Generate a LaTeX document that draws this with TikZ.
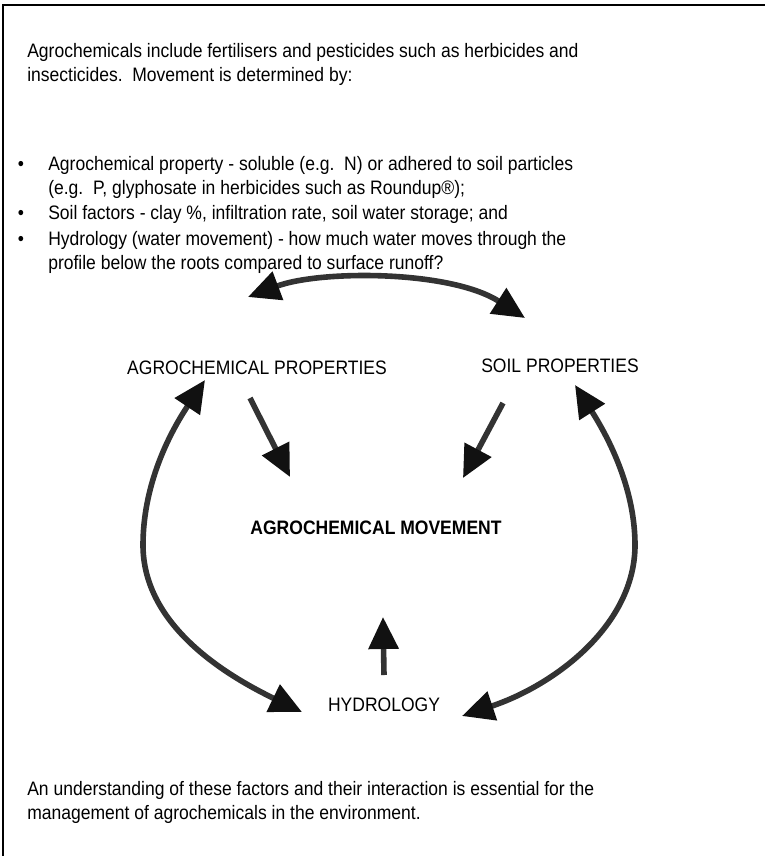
\documentclass[tikz,border=0pt]{standalone}
\usepackage{fontspec}
\setmainfont[FakeStretch=0.9]{Liberation Sans}
\usetikzlibrary{arrows.meta}

\definecolor{arcgray}{HTML}{333333}
\definecolor{tipblack}{HTML}{111111}

\tikzset{
	body/.style={anchor=north west, inner sep=0pt, align=left, font=\fontsize{14.6}{18}\selectfont},
	dot/.style={anchor=base, inner sep=0pt, font=\fontsize{14.6}{18}\selectfont},
	factor/.style={inner sep=0pt, font=\fontsize{14.6}{18}\selectfont},
	flow/.style={line width=4.2pt, draw=arcgray},
}

\begin{document}
\begin{tikzpicture}[x=0.75pt, y=-0.75pt, >={Triangle[length=24pt,width=22pt,color=tipblack]}]

		\useasboundingbox (0,0) rectangle (765,856);
		\draw[line width=1.5pt] (3,856) -- (3,5) -- (765,5); %Marco

		% texto
		\node[body] (intro) at (27,43) {Agrochemicals include fertilisers and pesticides such as herbicides and\\insecticides.\ \ Movement is determined by:};

		\node[dot] (b1) at (21,170) {•};
		\node[body] (item1) at (48,156) {Agrochemical property - soluble (e.g.\ \ N) or adhered to soil particles\\(e.g.\ \ P, glyphosate in herbicides such as Roundup®);};
		\node[dot] (b2) at (21,219) {•};
		\node[body] (item2) at (48,205) {Soil factors - clay \%, infiltration rate, soil water storage; and};
		\node[dot] (b3) at (21,245) {•};
		\node[body] (item3) at (48,231) {Hydrology (water movement) - how much water moves through the\\profile below the roots compared to surface runoff?};

		\node[body] (outro) at (27,781) {An understanding of these factors and their interaction is essential for the\\management of agrochemicals in the environment.};

		% diagrama
		\node[factor] (agro) at (257,368) {AGROCHEMICAL PROPERTIES};
		\node[factor] (soil) at (560,366) {SOIL PROPERTIES};
		\node[factor, font=\fontsize{14.6}{18}\selectfont\bfseries] (move) at (376,528) {AGROCHEMICAL MOVEMENT};
		\node[factor] (hydro) at (384,705) {HYDROLOGY};

		\coordinate (agroT) at (248,297);
		\coordinate (soilT) at (525,318);
		\coordinate (agroB) at (205,380);
		\coordinate (soilB) at (575,385);
		\coordinate (west) at (143,545);
		\coordinate (east) at (635,545);
		\coordinate (hydroL) at (302,712);
		\coordinate (hydroR) at (462,716);

		\draw[flow, <->] (agroT) .. controls (320,270) and (450,270) .. (soilT);
		\draw[flow, <->] (agroB) .. controls (165,440) and (143,490) .. (west) .. controls (143,620) and (215,670) .. (hydroL);
		\draw[flow, <->] (soilB) .. controls (610,440) and (635,490) .. (east) .. controls (635,625) and (555,685) .. (hydroR);

		\coordinate (agroD) at (250,398);
		\coordinate (moveL) at (290,477);
		\coordinate (soilD) at (503,403);
		\coordinate (moveR) at (463,478);
		\coordinate (hydroU) at (384,675);
		\coordinate (moveB) at (383,617);

		\draw[flow, ->] (agroD) -- (moveL);
		\draw[flow, ->] (soilD) -- (moveR);
		\draw[flow, ->] (hydroU) -- (moveB);

	\end{tikzpicture}
\end{document}
